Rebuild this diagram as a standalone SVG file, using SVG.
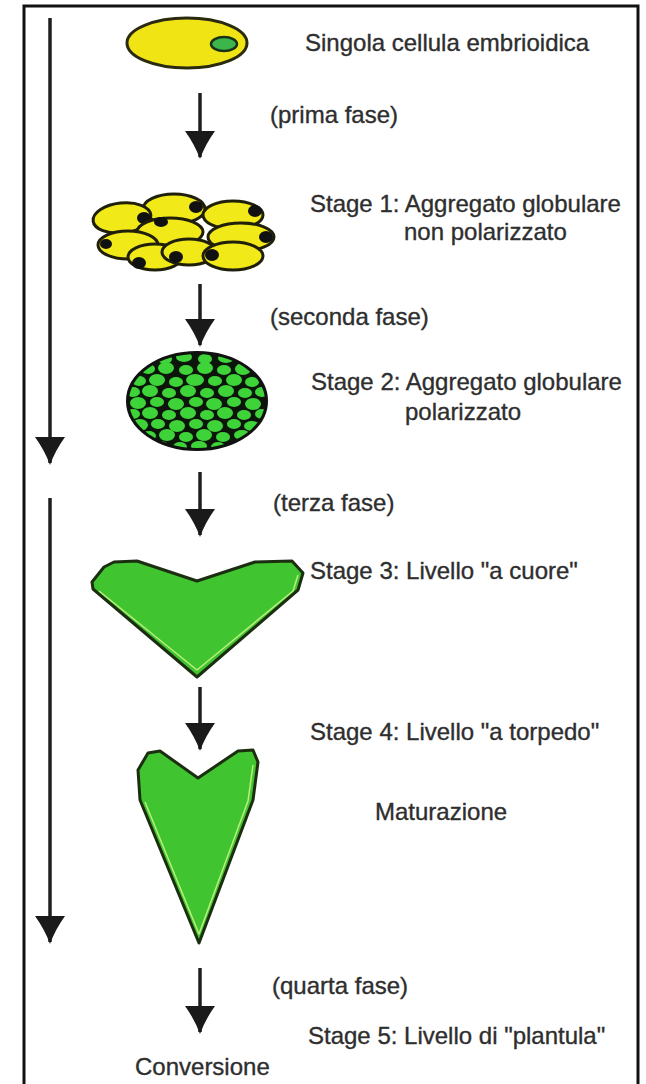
<svg xmlns="http://www.w3.org/2000/svg" width="646" height="1084" viewBox="0 0 646 1084">
  <style>
    .lbl { font-family: "Liberation Sans", Arial, sans-serif; font-size: 24px; fill: #2e2e2e; stroke: #2e2e2e; stroke-width: 0.35; }
    .shaft { stroke: #1e1e1e; stroke-width: 3.5; fill: none; }
    .cell { fill: #f2ea18; stroke: #1f1f0a; stroke-width: 3; }
    .nuc { fill: #111; }
    .leaf { fill: #40c42f; stroke: #1b2e10; stroke-width: 3; stroke-linejoin: round; }
    .glint { fill: none; stroke: #b9f07c; stroke-width: 1.5; stroke-linejoin: round; }
    .blob { fill: #3fd33a; }
  </style>
  <defs>
    <marker id="head" viewBox="0 0 28 30" refX="26" refY="15" markerWidth="28" markerHeight="30" markerUnits="userSpaceOnUse" orient="auto">
      <path d="M0,0 Q14,10 28,15 Q14,20 0,30 Z" fill="#1a1a1a"/>
    </marker>
    <clipPath id="globClip">
      <ellipse cx="197" cy="401" rx="68" ry="47"/>
    </clipPath>
  </defs>

  <rect width="646" height="1084" fill="#ffffff"/>
  <!-- outer frame (open at the bottom edge) -->
  <rect x="24" y="6" width="614" height="1100" fill="none" stroke="#111" stroke-width="3"/>

  <!-- connectors -->
  <g id="connectors">
    <line class="shaft" x1="50" y1="18" x2="50" y2="463" marker-end="url(#head)"/>
    <line class="shaft" x1="50" y1="498" x2="50" y2="942" marker-end="url(#head)"/>
    <line class="shaft" x1="200" y1="93" x2="200" y2="157" marker-end="url(#head)"/>
    <line class="shaft" x1="200" y1="284" x2="200" y2="345" marker-end="url(#head)"/>
    <line class="shaft" x1="200" y1="472" x2="200" y2="535" marker-end="url(#head)"/>
    <line class="shaft" x1="200" y1="687" x2="200" y2="749" marker-end="url(#head)"/>
    <line class="shaft" x1="200" y1="968" x2="200" y2="1032" marker-end="url(#head)"/>
  </g>

  <!-- single embryogenic cell -->
  <g id="cell">
    <ellipse cx="187" cy="43" rx="60" ry="25" fill="#f0e414" stroke="#2a2a10" stroke-width="3"/>
    <ellipse cx="224" cy="44" rx="13" ry="7" fill="#3cb64a" stroke="#1a3316" stroke-width="2.5"/>
  </g>

  <!-- stage 1: unpolarised globular aggregate -->
  <g id="stage1">
    <ellipse class="cell" cx="174" cy="209" rx="31" ry="15"/>
    <ellipse class="nuc" cx="196" cy="207" rx="7" ry="6"/>
    <ellipse class="cell" cx="122" cy="218" rx="29" ry="15" transform="rotate(-6 122 218)"/>
    <ellipse class="nuc" cx="144" cy="218" rx="7" ry="6"/>
    <ellipse class="cell" cx="233" cy="215" rx="30" ry="14"/>
    <ellipse class="nuc" cx="255" cy="211" rx="7" ry="6"/>
    <ellipse class="cell" cx="170" cy="232" rx="33" ry="14"/>
    <ellipse class="nuc" cx="161" cy="222" rx="7" ry="5"/>
    <ellipse class="cell" cx="241" cy="237" rx="33" ry="14"/>
    <ellipse class="nuc" cx="266" cy="237" rx="7" ry="6"/>
    <ellipse class="cell" cx="128" cy="245" rx="30" ry="14"/>
    <ellipse class="nuc" cx="106" cy="244" rx="6" ry="5"/>
    <ellipse class="cell" cx="155" cy="257" rx="27" ry="13"/>
    <ellipse class="nuc" cx="139" cy="263" rx="7" ry="6"/>
    <ellipse class="cell" cx="189" cy="252" rx="27" ry="13"/>
    <ellipse class="nuc" cx="176" cy="257" rx="7" ry="6"/>
    <ellipse class="cell" cx="233" cy="256" rx="30" ry="14"/>
    <ellipse class="nuc" cx="212" cy="255" rx="7" ry="6"/>
  </g>

  <!-- stage 2: polarised globular aggregate -->
  <g id="stage2">
    <ellipse cx="197" cy="401" rx="70" ry="49" fill="#0c150a" stroke="#111" stroke-width="2"/>
    <g clip-path="url(#globClip)">
      <ellipse class="blob" cx="165" cy="359" rx="7" ry="5"/>
      <ellipse class="blob" cx="184" cy="357" rx="8" ry="5"/>
      <ellipse class="blob" cx="205" cy="359" rx="7" ry="5"/>
      <ellipse class="blob" cx="226" cy="358" rx="8" ry="5"/>
      <ellipse class="blob" cx="148" cy="369" rx="7" ry="5"/>
      <ellipse class="blob" cx="166" cy="368" rx="8" ry="6"/>
      <ellipse class="blob" cx="186" cy="370" rx="7" ry="5"/>
      <ellipse class="blob" cx="205" cy="368" rx="8" ry="6"/>
      <ellipse class="blob" cx="224" cy="370" rx="7" ry="5"/>
      <ellipse class="blob" cx="243" cy="369" rx="8" ry="6"/>
      <ellipse class="blob" cx="139" cy="381" rx="7" ry="5"/>
      <ellipse class="blob" cx="157" cy="380" rx="8" ry="6"/>
      <ellipse class="blob" cx="176" cy="382" rx="7" ry="5"/>
      <ellipse class="blob" cx="195" cy="380" rx="9" ry="6"/>
      <ellipse class="blob" cx="215" cy="381" rx="7" ry="5"/>
      <ellipse class="blob" cx="234" cy="380" rx="8" ry="6"/>
      <ellipse class="blob" cx="252" cy="382" rx="7" ry="5"/>
      <ellipse class="blob" cx="133" cy="392" rx="7" ry="5"/>
      <ellipse class="blob" cx="150" cy="391" rx="8" ry="6"/>
      <ellipse class="blob" cx="169" cy="393" rx="7" ry="5"/>
      <ellipse class="blob" cx="188" cy="391" rx="8" ry="6"/>
      <ellipse class="blob" cx="207" cy="393" rx="7" ry="5"/>
      <ellipse class="blob" cx="226" cy="391" rx="8" ry="6"/>
      <ellipse class="blob" cx="245" cy="393" rx="7" ry="5"/>
      <ellipse class="blob" cx="262" cy="392" rx="7" ry="5"/>
      <ellipse class="blob" cx="138" cy="403" rx="8" ry="6"/>
      <ellipse class="blob" cx="157" cy="402" rx="7" ry="5"/>
      <ellipse class="blob" cx="176" cy="404" rx="8" ry="6"/>
      <ellipse class="blob" cx="196" cy="402" rx="7" ry="5"/>
      <ellipse class="blob" cx="214" cy="404" rx="8" ry="6"/>
      <ellipse class="blob" cx="234" cy="402" rx="7" ry="5"/>
      <ellipse class="blob" cx="253" cy="404" rx="8" ry="6"/>
      <ellipse class="blob" cx="133" cy="414" rx="7" ry="5"/>
      <ellipse class="blob" cx="150" cy="413" rx="8" ry="6"/>
      <ellipse class="blob" cx="169" cy="415" rx="7" ry="5"/>
      <ellipse class="blob" cx="188" cy="413" rx="8" ry="6"/>
      <ellipse class="blob" cx="207" cy="415" rx="7" ry="5"/>
      <ellipse class="blob" cx="225" cy="413" rx="8" ry="6"/>
      <ellipse class="blob" cx="244" cy="415" rx="7" ry="5"/>
      <ellipse class="blob" cx="262" cy="414" rx="7" ry="5"/>
      <ellipse class="blob" cx="140" cy="425" rx="8" ry="6"/>
      <ellipse class="blob" cx="158" cy="424" rx="7" ry="5"/>
      <ellipse class="blob" cx="177" cy="426" rx="8" ry="6"/>
      <ellipse class="blob" cx="196" cy="424" rx="7" ry="5"/>
      <ellipse class="blob" cx="215" cy="426" rx="8" ry="6"/>
      <ellipse class="blob" cx="234" cy="424" rx="7" ry="5"/>
      <ellipse class="blob" cx="252" cy="426" rx="8" ry="5"/>
      <ellipse class="blob" cx="149" cy="436" rx="7" ry="5"/>
      <ellipse class="blob" cx="167" cy="435" rx="8" ry="6"/>
      <ellipse class="blob" cx="186" cy="437" rx="7" ry="5"/>
      <ellipse class="blob" cx="204" cy="435" rx="8" ry="6"/>
      <ellipse class="blob" cx="223" cy="437" rx="7" ry="5"/>
      <ellipse class="blob" cx="242" cy="435" rx="8" ry="5"/>
      <ellipse class="blob" cx="160" cy="446" rx="8" ry="5"/>
      <ellipse class="blob" cx="180" cy="447" rx="7" ry="5"/>
      <ellipse class="blob" cx="199" cy="446" rx="8" ry="5"/>
      <ellipse class="blob" cx="218" cy="447" rx="7" ry="5"/>
      <ellipse class="blob" cx="236" cy="446" rx="7" ry="5"/>
    </g>
  </g>

  <!-- stage 3: heart-shaped embryo -->
  <g id="stage3">
    <polygon class="leaf" points="92,582 104,567 114,562 137,561 197,581 255,562 292,561 303,573 298,590 197,677 93,589"/>
    <polyline class="glint" points="99,591 197,670 293,591 298,575"/>
  </g>

  <!-- stage 4: torpedo-shaped embryo -->
  <g id="stage4">
    <polygon class="leaf" points="138,770 148,753 160,751 198,778 238,751 253,750 258,762 253,800 199,943 140,800"/>
    <polyline class="glint" points="145,802 199,934 248,801 253,765"/>
  </g>

  <!-- labels -->
  <g id="labels">
    <text class="lbl" x="305" y="51">Singola cellula embrioidica</text>
    <text class="lbl" x="270" y="123">(prima fase)</text>
    <text class="lbl" x="310" y="212">Stage 1: Aggregato globulare</text>
    <text class="lbl" x="404" y="240">non polarizzato</text>
    <text class="lbl" x="270" y="325">(seconda fase)</text>
    <text class="lbl" x="311" y="390">Stage 2: Aggregato globulare</text>
    <text class="lbl" x="405" y="420">polarizzato</text>
    <text class="lbl" x="273" y="511">(terza fase)</text>
    <text class="lbl" x="310" y="579">Stage 3: Livello "a cuore"</text>
    <text class="lbl" x="310" y="740">Stage 4: Livello "a torpedo"</text>
    <text class="lbl" x="375" y="820">Maturazione</text>
    <text class="lbl" x="272" y="994">(quarta fase)</text>
    <text class="lbl" x="308" y="1044">Stage 5: Livello di "plantula"</text>
    <text class="lbl" x="135" y="1075">Conversione</text>
  </g>
</svg>
